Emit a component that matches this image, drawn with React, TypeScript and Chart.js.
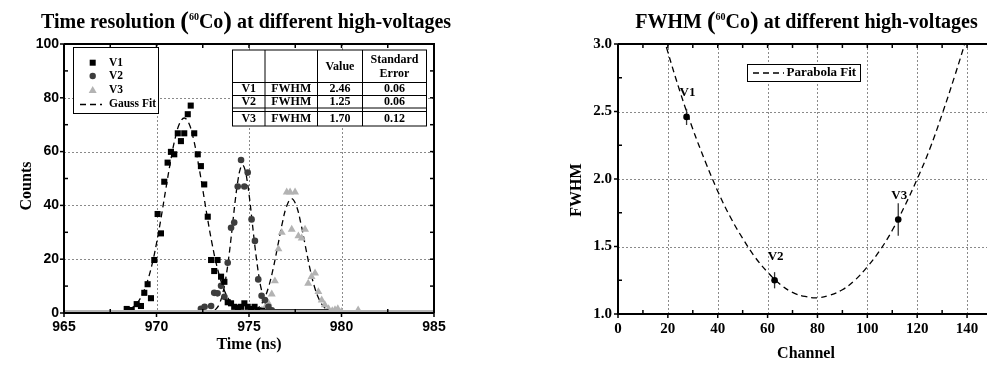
import React, { useEffect, useRef } from "react";
import { Chart, registerables } from "chart.js";

Chart.register(...registerables);

const SERIF = '"Liberation Serif", "Times New Roman", Times, serif';
const SANS = '"Liberation Sans", Arial, Helvetica, sans-serif';

// ---------------- Left chart: time spectra ----------------
const TIME_TICKS = [965, 970, 975, 980, 985];
const TIME_MINOR = [967.5, 972.5, 977.5, 982.5];
const COUNT_TICKS = [0, 20, 40, 60, 80, 100];
const COUNT_MINOR = [10, 30, 50, 70, 90];

const V1_TIME = [968.39, 968.66, 968.93, 969.16, 969.34, 969.52, 969.7, 969.88, 970.06, 970.24, 970.42, 970.6, 970.78, 970.96, 971.15, 971.32, 971.5, 971.69, 971.85, 972.04, 972.23, 972.4, 972.58, 972.77, 972.95, 973.12, 973.3, 973.49, 973.67, 973.85, 974.03, 974.2, 974.4, 974.57, 974.75, 974.93, 975.12, 975.3, 975.5, 975.7];
const V1_COUNTS = [1.5, 1.1, 3.3, 2.6, 7.5, 10.7, 5.5, 19.7, 36.8, 29.6, 48.8, 55.9, 59.9, 59.0, 66.8, 63.9, 66.8, 73.9, 77.1, 66.8, 59.0, 54.6, 47.8, 35.8, 19.7, 15.6, 19.7, 13.5, 11.6, 4.0, 3.6, 2.3, 2.0, 2.3, 3.6, 2.3, 1.5, 2.3, 1.0, 0.8];

const V2_TIME = [972.4, 972.6, 972.95, 973.12, 973.3, 973.49, 973.67, 973.85, 974.03, 974.2, 974.39, 974.57, 974.75, 974.93, 975.14, 975.32, 975.5, 975.68, 975.86, 976.05, 976.23];
const V2_COUNTS = [1.6, 2.3, 2.6, 7.5, 7.3, 10.1, 6.0, 18.7, 31.7, 33.6, 47.0, 56.9, 47.0, 52.2, 34.8, 26.8, 12.5, 6.4, 4.8, 2.3, 1.0];

const V3_TIME = [975.7, 975.87, 976.05, 976.23, 976.4, 976.59, 976.77, 977.04, 977.22, 977.31, 977.49, 977.67, 977.85, 978.03, 978.2, 978.38, 978.57, 978.75, 978.93, 979.1, 979.3, 979.5, 979.65, 979.8, 980.0, 980.9];
const V3_COUNTS = [1.0, 2.0, 3.6, 7.0, 11.9, 23.8, 29.9, 44.9, 44.9, 31.1, 44.9, 28.6, 27.8, 31.1, 11.0, 13.5, 14.8, 7.9, 4.8, 3.0, 1.5, 0.8, 1.2, 1.5, 0.5, 1.1];

// zero-count channels (rows of markers lying on the axis)
const ZERO_LIGHT_TIME = [965, 985];
const ZERO_LIGHT_COUNTS = [0, 0];
const ZERO_DARK_TIME = [975.6, 979.3];
const ZERO_DARK_COUNTS = [0, 0];

// Gauss fit curves
const FIT1_TIME = [968.0, 968.5, 968.75, 969.0, 969.25, 969.5, 969.75, 970.0, 970.25, 970.5, 970.75, 971.0, 971.25, 971.5, 971.75, 972.0, 972.25, 972.5, 972.75, 973.0, 973.25, 973.5, 973.75, 974.0, 974.25, 974.5, 975.0];
const FIT1_COUNTS = [0.27, 1.2, 2.3, 4.1, 7.1, 11.6, 17.8, 25.9, 35.5, 45.9, 56.0, 64.7, 70.5, 72.5, 70.5, 64.7, 56.0, 45.9, 35.5, 25.9, 17.8, 11.6, 7.1, 4.1, 2.3, 1.2, 0.27];
const FIT2_TIME = [972.65, 972.9, 973.15, 973.4, 973.65, 973.775, 973.9, 974.025, 974.15, 974.275, 974.4, 974.525, 974.65, 974.775, 974.9, 975.025, 975.15, 975.275, 975.4, 975.525, 975.65, 975.9, 976.15, 976.4, 976.65];
const FIT2_COUNTS = [0.05, 0.24, 1.0, 3.4, 9.3, 14.2, 20.3, 27.5, 35.3, 42.9, 49.2, 53.5, 55.0, 53.5, 49.2, 42.9, 35.3, 27.5, 20.3, 14.2, 9.3, 3.4, 1.0, 0.24, 0.05];
const FIT3_TIME = [974.8, 975.3, 975.55, 975.8, 976.05, 976.3, 976.55, 976.8, 977.05, 977.3, 977.55, 977.8, 978.05, 978.3, 978.55, 978.8, 979.05, 979.3, 979.8];
const FIT3_COUNTS = [0.1, 0.92, 2.25, 4.9, 9.5, 16.3, 24.8, 33.4, 40.0, 42.5, 40.0, 33.4, 24.8, 16.3, 9.5, 4.9, 2.25, 0.92, 0.1];

const TABLE_HEADER = ["", "", "Value", "Standard|Error"];
const TABLE_SERIES = ["V1", "V2", "V3"];
const TABLE_PARAM = ["FWHM", "FWHM", "FWHM"];
const TABLE_VALUE = ["2.46", "1.25", "1.70"];
const TABLE_ERROR = ["0.06", "0.06", "0.12"];

// ---------------- Right chart: FWHM vs channel ----------------
const CHANNEL_TICKS = [0, 20, 40, 60, 80, 100, 120, 140];
const CHANNEL_MINOR = [10, 30, 50, 70, 90, 110, 130];
const FWHM_TICKS = [1.0, 1.5, 2.0, 2.5, 3.0];
const FWHM_MINOR = [1.25, 1.75, 2.25, 2.75];

const POINT_NAMES = ["V1", "V2", "V3"];
const POINT_CHANNEL = [27.5, 62.8, 112.4];
const POINT_FWHM = [2.46, 1.25, 1.70];
const POINT_ERR = [0.06, 0.06, 0.12];

const PARA_CHANNEL = [15, 20, 25, 30, 35, 40, 45, 50, 55, 60, 65, 70, 75, 80, 85, 90, 95, 100, 105, 110, 115, 120, 125, 130, 135, 140, 145];
const PARA_FWHM = [3.26, 2.94, 2.64, 2.37, 2.13, 1.91, 1.72, 1.56, 1.42, 1.31, 1.22, 1.16, 1.13, 1.12, 1.14, 1.18, 1.25, 1.35, 1.47, 1.62, 1.80, 2.00, 2.22, 2.48, 2.76, 3.06, 3.39];

const zip = (xs: number[], ys: number[]) => xs.map((x, i) => ({ x, y: ys[i] }));

function drawGridFrame(chart: any, cfg: any) {
  const { ctx, chartArea, scales } = chart;
  const { left, right, top, bottom } = chartArea;
  const xs = scales.x;
  const ys = scales.y;
  ctx.save();
  ctx.strokeStyle = "#8a8a8a";
  ctx.lineWidth = 1;
  ctx.setLineDash([2, 2]);
  for (const v of cfg.xGrid) {
    const px = Math.round(xs.getPixelForValue(v)) + 0.5;
    ctx.beginPath();
    ctx.moveTo(px, top);
    ctx.lineTo(px, bottom);
    ctx.stroke();
  }
  for (const v of cfg.yGrid) {
    const py = Math.round(ys.getPixelForValue(v)) + 0.5;
    ctx.beginPath();
    ctx.moveTo(left, py);
    ctx.lineTo(right, py);
    ctx.stroke();
  }
  ctx.restore();
}

function drawFrame(chart: any, cfg: any) {
  const { ctx, chartArea, scales } = chart;
  const { left, right, top, bottom } = chartArea;
  const xs = scales.x;
  const ys = scales.y;
  ctx.save();
  ctx.strokeStyle = "#000";
  ctx.lineWidth = 1.5;
  const tick = (x1: number, y1: number, x2: number, y2: number) => {
    ctx.beginPath();
    ctx.moveTo(x1, y1);
    ctx.lineTo(x2, y2);
    ctx.stroke();
  };
  for (const v of cfg.xMajor) {
    const px = xs.getPixelForValue(v);
    tick(px, bottom, px, bottom + 4);
    tick(px, top, px, top + 4);
  }
  for (const v of cfg.xMinor) {
    const px = xs.getPixelForValue(v);
    tick(px, bottom, px, bottom - 4);
    tick(px, top, px, top + 4);
  }
  for (const v of cfg.yMajor) {
    const py = ys.getPixelForValue(v);
    tick(left, py, left - 4, py);
    if (cfg.rightBorder) tick(right, py, right - 4, py);
  }
  for (const v of cfg.yMinor) {
    const py = ys.getPixelForValue(v);
    tick(left, py, left + 4, py);
    if (cfg.rightBorder) tick(right, py, right - 4, py);
  }
  ctx.lineWidth = 2;
  ctx.beginPath();
  ctx.moveTo(left, top);
  ctx.lineTo(left, bottom);
  ctx.lineTo(right, bottom);
  ctx.stroke();
  ctx.beginPath();
  ctx.moveTo(left, top);
  ctx.lineTo(right, top);
  if (cfg.rightBorder) ctx.lineTo(right, bottom);
  ctx.stroke();
  ctx.restore();
}

function drawSupTitle(ctx: CanvasRenderingContext2D, cx: number, base: number, pre: string, post: string) {
  const main = `bold 20px ${SERIF}`;
  const paren = `bold 26px ${SERIF}`;
  const sup = `bold 10px ${SERIF}`;
  const parts = [
    { t: pre, f: main, dy: 0 },
    { t: "(", f: paren, dy: 1 },
    { t: "60", f: sup, dy: -8 },
    { t: "Co", f: main, dy: 0 },
    { t: ")", f: paren, dy: 1 },
    { t: post, f: main, dy: 0 },
  ];
  let w = 0;
  for (const p of parts) {
    ctx.font = p.f;
    w += ctx.measureText(p.t).width;
  }
  let x = cx - w / 2;
  ctx.textAlign = "left";
  ctx.textBaseline = "alphabetic";
  ctx.fillStyle = "#000";
  for (const p of parts) {
    ctx.font = p.f;
    ctx.fillText(p.t, x, base + p.dy);
    x += ctx.measureText(p.t).width;
  }
}

function drawText(ctx: CanvasRenderingContext2D, text: string, x: number, y: number, font: string, align: CanvasTextAlign = "center", rot = 0) {
  ctx.save();
  ctx.translate(x, y);
  if (rot) ctx.rotate(rot);
  ctx.font = font;
  ctx.textAlign = align;
  ctx.textBaseline = "middle";
  ctx.fillStyle = "#000";
  ctx.fillText(text, 0, 0);
  ctx.restore();
}

const leftPlugin = {
  id: "leftDecor",
  beforeDatasetsDraw(chart: any) {
    drawGridFrame(chart, { xGrid: [970, 975, 980], yGrid: [20, 40, 60, 80] });
  },
  afterDatasetsDraw(chart: any) {
    drawFrame(chart, {
      xMajor: TIME_TICKS, xMinor: TIME_MINOR, yMajor: COUNT_TICKS, yMinor: COUNT_MINOR, rightBorder: true,
    });
  },
  afterDraw(chart: any) {
    const ctx: CanvasRenderingContext2D = chart.ctx;
    ctx.save();
    drawSupTitle(ctx, 246, 28, "Time resolution ", " at different high-voltages");
    drawText(ctx, "Counts", 27, 186, `bold 16px ${SERIF}`, "center", -Math.PI / 2);
    drawText(ctx, "Time (ns)", 249, 345, `bold 16px ${SERIF}`);

    // legend
    ctx.fillStyle = "#fff";
    ctx.fillRect(73, 47, 85, 66);
    ctx.strokeStyle = "#000";
    ctx.lineWidth = 1;
    ctx.strokeRect(73.5, 47.5, 85, 66);
    const lf = `bold 11.5px ${SERIF}`;
    ctx.fillStyle = "#000";
    ctx.fillRect(89.7, 59.7, 6, 6);
    drawText(ctx, "V1", 109, 63, lf, "left");
    ctx.fillStyle = "#3d3d3d";
    ctx.beginPath();
    ctx.arc(92.7, 76, 3.2, 0, Math.PI * 2);
    ctx.fill();
    drawText(ctx, "V2", 109, 76.5, lf, "left");
    ctx.fillStyle = "#b3b3b3";
    ctx.beginPath();
    ctx.moveTo(92.7, 86);
    ctx.lineTo(96.7, 93);
    ctx.lineTo(88.7, 93);
    ctx.closePath();
    ctx.fill();
    drawText(ctx, "V3", 109, 90.5, lf, "left");
    ctx.strokeStyle = "#000";
    ctx.lineWidth = 1.3;
    ctx.setLineDash([6, 4]);
    ctx.beginPath();
    ctx.moveTo(80, 104.5);
    ctx.lineTo(102, 104.5);
    ctx.stroke();
    ctx.setLineDash([]);
    drawText(ctx, "Gauss Fit", 109, 104.5, lf, "left");

    // table
    const colX = [232.5, 265, 317.5, 362.5, 426.5];
    const rowY = [50, 82.5, 95.5, 108, 111.5, 126];
    ctx.fillStyle = "#fff";
    ctx.fillRect(colX[0], rowY[0], colX[4] - colX[0], rowY[5] - rowY[0]);
    ctx.strokeStyle = "#000";
    ctx.lineWidth = 1;
    ctx.strokeRect(colX[0], rowY[0], colX[4] - colX[0], rowY[5] - rowY[0]);
    for (let i = 1; i < 4; i++) {
      ctx.beginPath();
      ctx.moveTo(colX[i], rowY[0]);
      ctx.lineTo(colX[i], rowY[5]);
      ctx.stroke();
    }
    for (let j = 1; j < 5; j++) {
      ctx.beginPath();
      ctx.moveTo(colX[0], rowY[j]);
      ctx.lineTo(colX[4], rowY[j]);
      ctx.stroke();
    }
    const tf = `bold 12px ${SERIF}`;
    const cc = (i: number) => (colX[i] + colX[i + 1]) / 2;
    TABLE_HEADER.forEach((h, i) => {
      const lines = h.split("|");
      if (lines.length === 1) drawText(ctx, h, cc(i), 67, tf);
      else {
        drawText(ctx, lines[0], cc(i), 59.5, tf);
        drawText(ctx, lines[1], cc(i), 74, tf);
      }
    });
    const rowCenters = [89.2, 101.8, 119];
    TABLE_SERIES.forEach((s, r) => {
      const y = rowCenters[r];
      drawText(ctx, s, cc(0), y, tf);
      drawText(ctx, TABLE_PARAM[r], cc(1), y, tf);
      drawText(ctx, TABLE_VALUE[r], cc(2), y, tf);
      drawText(ctx, TABLE_ERROR[r], cc(3), y, tf);
    });
    ctx.restore();
  },
};

const rightPlugin = {
  id: "rightDecor",
  beforeDatasetsDraw(chart: any) {
    drawGridFrame(chart, { xGrid: [20, 40, 60, 80, 100, 120, 140], yGrid: [1.5, 2.0, 2.5] });
  },
  afterDatasetsDraw(chart: any) {
    drawFrame(chart, {
      xMajor: CHANNEL_TICKS, xMinor: CHANNEL_MINOR, yMajor: FWHM_TICKS, yMinor: FWHM_MINOR, rightBorder: false,
    });
  },
  afterDraw(chart: any) {
    const ctx: CanvasRenderingContext2D = chart.ctx;
    const xs = chart.scales.x;
    const ys = chart.scales.y;
    ctx.save();
    drawSupTitle(ctx, 316.5, 28, "FWHM ", " at different high-voltages");
    drawText(ctx, "FWHM", 87, 190, `bold 16px ${SERIF}`, "center", -Math.PI / 2);
    drawText(ctx, "Channel", 316, 354, `bold 16px ${SERIF}`);

    POINT_NAMES.forEach((name, i) => {
      const px = xs.getPixelForValue(POINT_CHANNEL[i]);
      const py = ys.getPixelForValue(POINT_FWHM[i]);
      const y1 = ys.getPixelForValue(POINT_FWHM[i] + POINT_ERR[i]);
      const y2 = ys.getPixelForValue(POINT_FWHM[i] - POINT_ERR[i]);
      ctx.strokeStyle = "#333";
      ctx.lineWidth = 1.3;
      ctx.beginPath();
      ctx.moveTo(px, y1);
      ctx.lineTo(px, y2);
      ctx.stroke();
      ctx.fillStyle = "#000";
      ctx.beginPath();
      ctx.arc(px, py, 3.3, 0, Math.PI * 2);
      ctx.fill();
      drawText(ctx, name, px + 1, py - 24, `bold 13px ${SERIF}`);
    });

    const lx = 257, ly = 64, lw = 113, lh = 17;
    ctx.fillStyle = "#fff";
    ctx.fillRect(lx, ly, lw, lh);
    ctx.strokeStyle = "#000";
    ctx.lineWidth = 1;
    ctx.strokeRect(lx + 0.5, ly + 0.5, lw, lh);
    ctx.lineWidth = 1.3;
    ctx.setLineDash([6, 4]);
    ctx.beginPath();
    ctx.moveTo(263, 73);
    ctx.lineTo(294, 73);
    ctx.stroke();
    ctx.setLineDash([]);
    drawText(ctx, "Parabola Fit", 296.5, 73, `bold 13px ${SERIF}`, "left");
    ctx.restore();
  },
};

function leftConfig(): any {
  const fit = (xs: number[], ys: number[], label: string) => ({
    label, data: zip(xs, ys), showLine: true, borderColor: "#000", borderWidth: 1.3,
    borderDash: [6, 4], pointRadius: 0, tension: 0.4, fill: false,
  });
  return {
    type: "scatter",
    data: {
      datasets: [
        { label: "zeros-light", data: zip(ZERO_LIGHT_TIME, ZERO_LIGHT_COUNTS), showLine: true, borderColor: "#b4b4b4", borderWidth: 6, pointRadius: 0 },
        { label: "zeros-dark", data: zip(ZERO_DARK_TIME, ZERO_DARK_COUNTS), showLine: true, borderColor: "#333", borderWidth: 8, pointRadius: 0 },
        { label: "V1", data: zip(V1_TIME, V1_COUNTS), pointStyle: "rect", pointRadius: 4.3, backgroundColor: "#000", borderColor: "#000", borderWidth: 0 },
        { label: "V2", data: zip(V2_TIME, V2_COUNTS), pointStyle: "circle", pointRadius: 3.3, backgroundColor: "#3d3d3d", borderColor: "#3d3d3d", borderWidth: 0 },
        { label: "V3", data: zip(V3_TIME, V3_COUNTS), pointStyle: "triangle", pointRadius: 4.6, backgroundColor: "#b3b3b3", borderColor: "#b3b3b3", borderWidth: 0 },
        fit(FIT1_TIME, FIT1_COUNTS, "Gauss Fit V1"),
        fit(FIT2_TIME, FIT2_COUNTS, "Gauss Fit V2"),
        fit(FIT3_TIME, FIT3_COUNTS, "Gauss Fit V3"),
      ],
    },
    options: {
      animation: false,
      responsive: false,
      maintainAspectRatio: false,
      layout: { padding: { top: 44, right: 56, left: 0, bottom: 0 } },
      plugins: { legend: { display: false }, tooltip: { enabled: false }, title: { display: false } },
      scales: {
        x: {
          type: "linear", min: 965, max: 985,
          grid: { display: false, drawTicks: false }, border: { display: false },
          ticks: { stepSize: 5, autoSkip: false, maxRotation: 0, padding: 6, color: "#000", font: { family: SANS, size: 14, weight: "bold" } },
          afterFit: (s: any) => { s.height = 52; },
        },
        y: {
          type: "linear", min: 0, max: 100,
          grid: { display: false, drawTicks: false }, border: { display: false },
          ticks: { stepSize: 20, autoSkip: false, padding: 5, color: "#000", font: { family: SANS, size: 14, weight: "bold" } },
          afterFit: (s: any) => { s.width = 64; },
        },
      },
    },
    plugins: [leftPlugin],
  };
}

function rightConfig(): any {
  return {
    type: "scatter",
    data: {
      datasets: [
        { label: "Parabola Fit", data: zip(PARA_CHANNEL, PARA_FWHM), showLine: true, borderColor: "#000", borderWidth: 1.3, borderDash: [6, 4], pointRadius: 0, tension: 0.4, fill: false },
      ],
    },
    options: {
      animation: false,
      responsive: false,
      maintainAspectRatio: false,
      layout: { padding: { top: 44, right: 2, left: 0, bottom: 0 } },
      plugins: { legend: { display: false }, tooltip: { enabled: false }, title: { display: false } },
      scales: {
        x: {
          type: "linear", min: 0, max: 148,
          grid: { display: false, drawTicks: false }, border: { display: false },
          ticks: { stepSize: 20, includeBounds: false, autoSkip: false, maxRotation: 0, padding: 6, color: "#000", font: { family: SERIF, size: 15, weight: "bold" } },
          afterFit: (s: any) => { s.height = 51; },
        },
        y: {
          type: "linear", min: 1, max: 3,
          grid: { display: false, drawTicks: false }, border: { display: false },
          ticks: { stepSize: 0.5, autoSkip: false, padding: 6, color: "#000", font: { family: SERIF, size: 15, weight: "bold" }, callback: (v: any) => Number(v).toFixed(1) },
          afterFit: (s: any) => { s.width = 128; },
        },
      },
    },
    plugins: [rightPlugin],
  };
}

export default function App() {
  const leftRef = useRef<HTMLCanvasElement>(null);
  const rightRef = useRef<HTMLCanvasElement>(null);
  useEffect(() => {
    const c1 = new Chart(leftRef.current as HTMLCanvasElement, leftConfig());
    const c2 = new Chart(rightRef.current as HTMLCanvasElement, rightConfig());
    return () => {
      c1.destroy();
      c2.destroy();
    };
  }, []);
  return (
    <div style={{ position: "absolute", left: 0, top: 0, width: 989, height: 365, background: "#fff", overflow: "hidden" }}>
      <canvas ref={leftRef} width={490} height={365} style={{ position: "absolute", left: 0, top: 0, width: 490, height: 365 }} />
      <canvas ref={rightRef} width={499} height={365} style={{ position: "absolute", left: 490, top: 0, width: 499, height: 365 }} />
    </div>
  );
}
